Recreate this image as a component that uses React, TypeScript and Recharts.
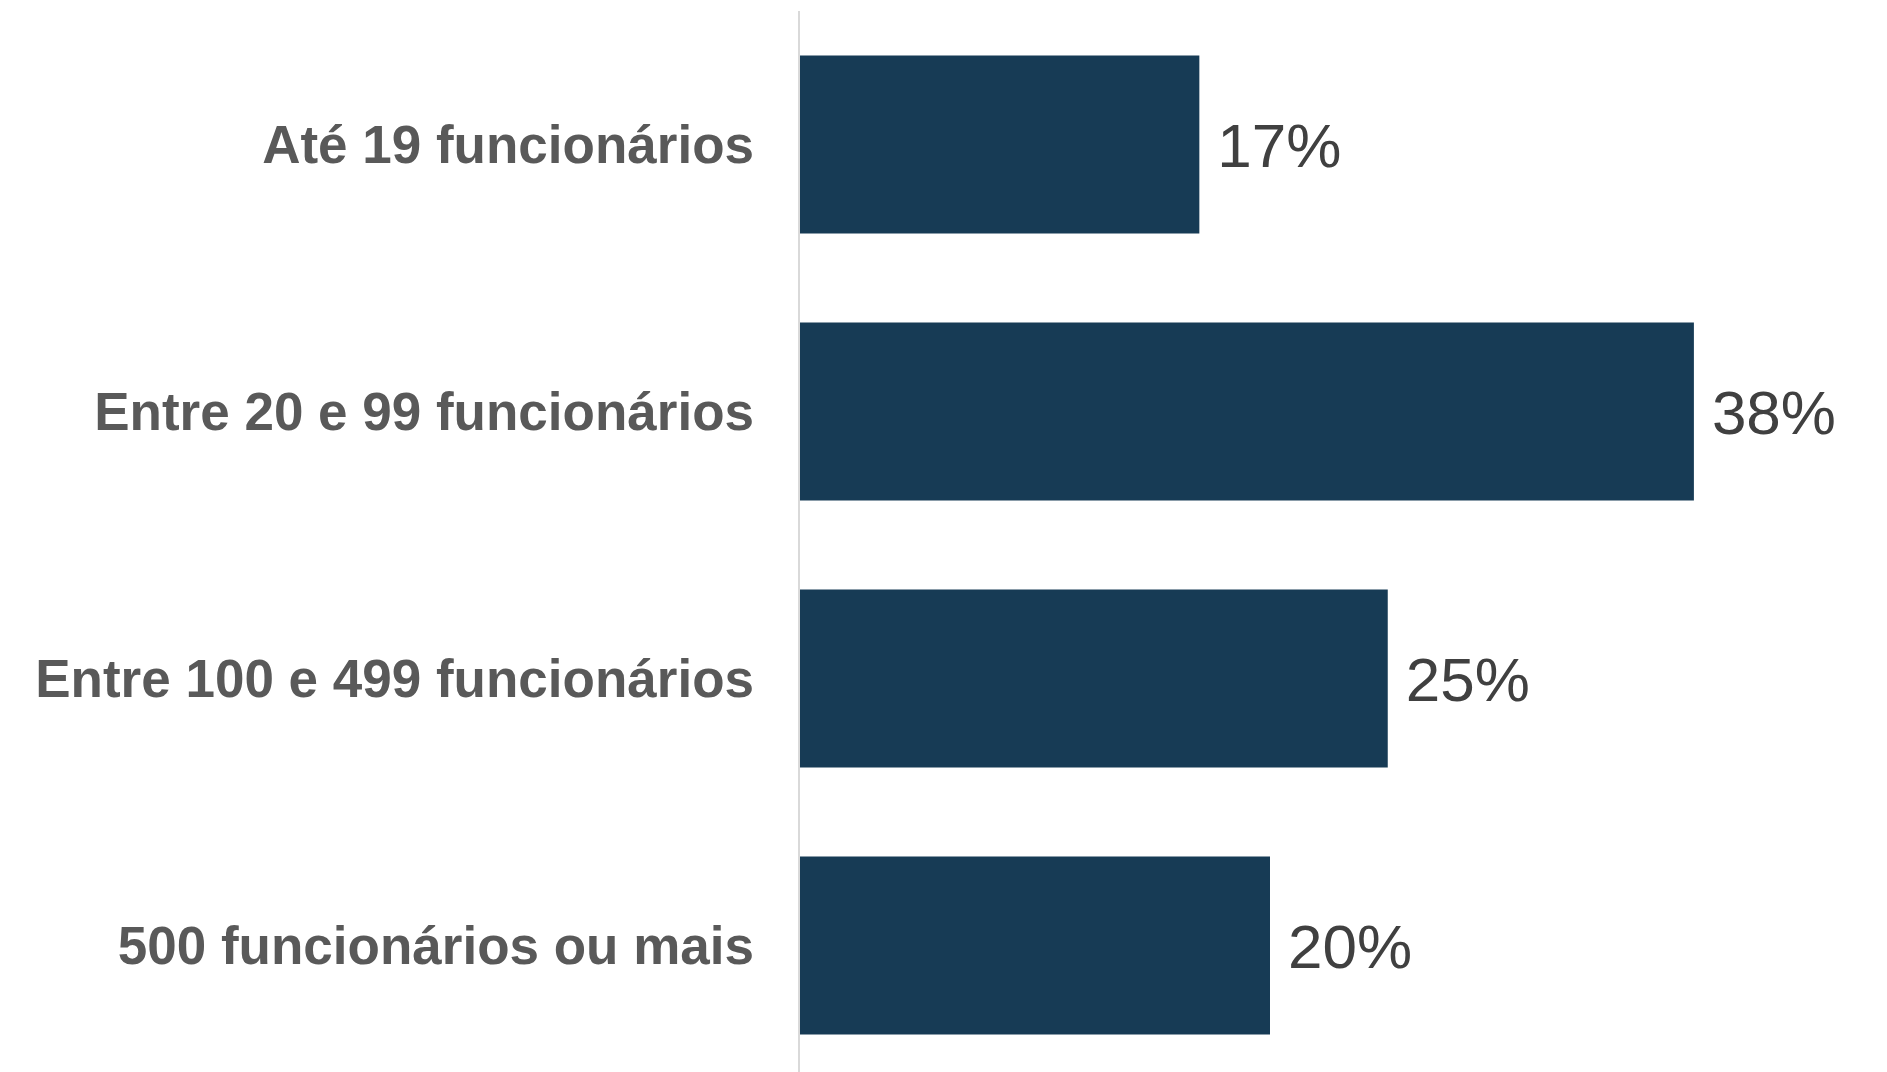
import { BarChart, Bar, XAxis, YAxis, LabelList } from "recharts";

const categories = [
  "Até 19 funcionários",
  "Entre 20 e 99 funcionários",
  "Entre 100 e 499 funcionários",
  "500 funcionários ou mais",
];
const shares = [17, 38, 25, 20];

const data = categories.map((name, i) => ({ name, value: shares[i] }));

function CategoryTick({ x, y, payload }: any) {
  return (
    <text
      x={x - 37}
      y={y}
      textAnchor="end"
      dominantBaseline="central"
      fontFamily="'Liberation Sans', Arial, sans-serif"
      fontWeight="bold"
      fontSize={53}
      fill="#595959"
    >
      {payload.value}
    </text>
  );
}

export default function App() {
  return (
    <div style={{ position: "absolute", left: 0, top: 0, background: "#fff" }}>
      <BarChart
        width={1887}
        height={1079}
        data={data}
        layout="vertical"
        margin={{ top: 11, right: 146, bottom: 0, left: 0 }}
        barCategoryGap="16.67%"
      >
        <XAxis type="number" domain={[0, 40]} hide />
        <YAxis
          type="category"
          dataKey="name"
          width={799}
          tickLine={false}
          axisLine={{ stroke: "#d9d9d9", strokeWidth: 2 }}
          tick={<CategoryTick />}
          interval={0}
        />
        <Bar dataKey="value" fill="#173b55" isAnimationActive={false}>
          <LabelList
            dataKey="value"
            position="right"
            offset={18}
            formatter={(v: any) => `${v}%`}
            style={{
              fontFamily: "'Liberation Sans', Arial, sans-serif",
              fontSize: 62,
              fill: "#404040",
            }}
          />
        </Bar>
      </BarChart>
    </div>
  );
}
